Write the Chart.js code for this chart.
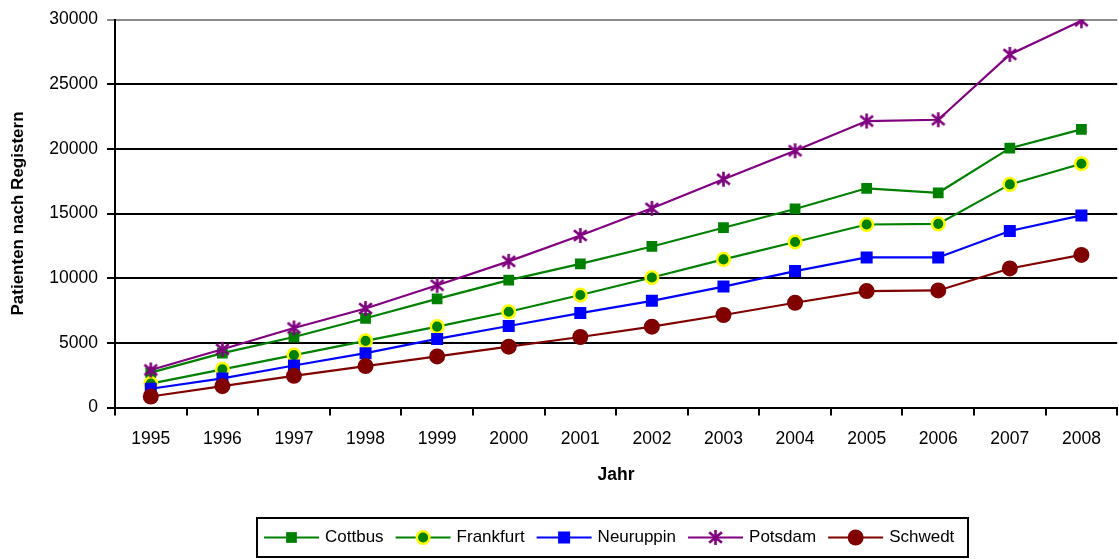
<!DOCTYPE html>
<html>
<head>
<meta charset="utf-8">
<script src="https://cdn.jsdelivr.net/npm/chart.js@4.4.1/dist/chart.umd.min.js"></script>
<style>
  html, body { margin: 0; padding: 0; background: #fff; overflow: hidden; }
  #wrap { width: 1126px; height: 559px; }
</style>
</head>
<body>
<div id="wrap"><canvas id="c" width="1126" height="559"></canvas></div>
<script>
// Patient counts per cancer registry, 1995-2008
const years = ['1995','1996','1997','1998','1999','2000','2001','2002','2003','2004','2005','2006','2007','2008'];
const cottbus   = [2700, 4200, 5450, 6900, 8400, 9850, 11100, 12450, 13900, 15350, 16950, 16600, 20050, 21500];
const frankfurt = [1850, 2950, 4050, 5150, 6250, 7400, 8700, 10050, 11450, 12800, 14150, 14200, 17250, 18850];
const neuruppin = [1450, 2250, 3250, 4200, 5300, 6300, 7300, 8250, 9350, 10550, 11600, 11600, 13650, 14850];
const potsdam   = [2900, 4500, 6150, 7650, 9450, 11300, 13300, 15400, 17650, 19850, 22150, 22250, 27300, 29900];
const schwedt   = [850, 1650, 2450, 3200, 3950, 4700, 5450, 6250, 7150, 8100, 9000, 9050, 10750, 11800];
const yTicks    = [0, 5000, 10000, 15000, 20000, 25000, 30000];

const FONT = "'Liberation Sans', Arial, sans-serif";

// Asterisk marker: vertical stroke plus an X
function makeAsterisk(color, size) {
  const cv = document.createElement('canvas');
  cv.width = size; cv.height = size;
  const g = cv.getContext('2d');
  g.strokeStyle = color;
  g.lineWidth = 2.6;
  const m = size / 2, r = size / 2 - 1;
  g.beginPath();
  g.moveTo(m, m - r); g.lineTo(m, m + r);
  g.moveTo(m - r * 0.85, m - r * 0.7); g.lineTo(m + r * 0.85, m + r * 0.7);
  g.moveTo(m - r * 0.85, m + r * 0.7); g.lineTo(m + r * 0.85, m - r * 0.7);
  g.stroke();
  return cv;
}
const star = makeAsterisk('#800080', 17);

const datasets = [
  { label: 'Cottbus', data: cottbus, borderColor: '#008000', backgroundColor: '#008000',
    pointStyle: 'rect', pointRadius: 7.6, pointBorderWidth: 0, order: 5 },
  { label: 'Frankfurt', data: frankfurt, borderColor: '#008000', backgroundColor: '#008000',
    pointStyle: 'circle', pointRadius: 6.3, pointBorderWidth: 2.5, pointBorderColor: '#ffff00', order: 4 },
  { label: 'Neuruppin', data: neuruppin, borderColor: '#0000ff', backgroundColor: '#0000ff',
    pointStyle: 'rect', pointRadius: 8.5, pointBorderWidth: 0, order: 3 },
  { label: 'Potsdam', data: potsdam, borderColor: '#800080', backgroundColor: '#800080',
    pointStyle: star, pointRadius: 8, pointBorderWidth: 0, order: 2 },
  { label: 'Schwedt', data: schwedt, borderColor: '#800000', backgroundColor: '#800000',
    pointStyle: 'circle', pointRadius: 8, pointBorderWidth: 0, order: 1 }
].map(d => Object.assign({ borderWidth: 2.2, tension: 0, fill: false, pointHoverRadius: d.pointRadius }, d));

// Boxed legend below the plot: line segment with marker, then the series name
const boxedLegend = {
  id: 'boxedLegend',
  afterDraw(chart) {
    const ctx = chart.ctx;
    const ds = chart.data.datasets.slice();
    ctx.save();
    ctx.font = '17px ' + FONT;
    const seg = 55, gapText = 6, gapItem = 12;
    let content = 0;
    ds.forEach((d, i) => {
      content += seg + gapText + ctx.measureText(d.label).width + (i < ds.length - 1 ? gapItem : 0);
    });
    const padL = 7, padR = 14;
    const center = 612.5;
    const boxL = Math.round(center - (content + padL + padR) / 2);
    const boxR = Math.round(boxL + content + padL + padR);
    const boxT = 518, boxB = 557, cy = 537.5;
    ctx.strokeStyle = '#000';
    ctx.lineWidth = 2;
    ctx.strokeRect(boxL, boxT, boxR - boxL, boxB - boxT);
    let x = boxL + padL;
    ds.forEach(d => {
      ctx.strokeStyle = d.borderColor;
      ctx.lineWidth = 2.2;
      ctx.beginPath();
      ctx.moveTo(x, cy); ctx.lineTo(x + seg, cy);
      ctx.stroke();
      const mx = x + seg / 2;
      ctx.fillStyle = d.backgroundColor;
      ctx.strokeStyle = d.pointBorderColor || d.borderColor;
      ctx.lineWidth = d.pointBorderWidth || 0;
      Chart.helpers.drawPoint(ctx, {
        pointStyle: d.pointStyle, radius: d.pointRadius, rotation: 0,
        borderWidth: d.pointBorderWidth
      }, mx, cy);
      x += seg + gapText;
      ctx.fillStyle = '#000';
      ctx.textBaseline = 'middle';
      ctx.textAlign = 'left';
      ctx.fillText(d.label, x, cy);
      x += ctx.measureText(d.label).width + gapItem;
    });
    ctx.restore();
  }
};

new Chart(document.getElementById('c'), {
  type: 'line',
  data: { labels: years, datasets },
  plugins: [boxedLegend],
  options: {
    responsive: false,
    animation: false,
    layout: { padding: { top: 19, left: 0, right: 1, bottom: 0 } },
    plugins: { legend: { display: false }, tooltip: { enabled: false } },
    scales: {
      x: {
        type: 'category',
        offset: true,
        afterFit(scale) { scale.height = 151.5; },
        grid: { offset: true, drawOnChartArea: false, drawTicks: true, tickLength: 8, color: '#000', lineWidth: 2 },
        border: { display: true, color: '#000', width: 2 },
        ticks: { color: '#000', font: { family: FONT, size: 17.5 }, padding: 13, maxRotation: 0, autoSkip: false },
        title: { display: true, text: 'Jahr', color: '#000', font: { family: FONT, size: 17.5, weight: 'bold' },
                 padding: { top: 0, bottom: 73.5 } }
      },
      y: {
        min: 0, max: 30000,
        afterFit(scale) { scale.width = 115; },
        afterBuildTicks(scale) { scale.ticks = yTicks.map(v => ({ value: v })); },
        grid: {
          color: ctx => (ctx.tick && ctx.tick.value === 30000) ? '#8c8c8c' : '#000',
          lineWidth: 2, tickLength: 8, drawTicks: true
        },
        border: { display: true, color: '#000', width: 2 },
        ticks: { color: '#000', font: { family: FONT, size: 17.5 }, padding: 9,
                 callback: v => String(v) },
        title: { display: true, text: 'Patienten nach Registern', color: '#000',
                 font: { family: FONT, size: 17, weight: 'bold' }, padding: { top: 7.8, bottom: 0 } }
      }
    }
  }
});
</script>
</body>
</html>
